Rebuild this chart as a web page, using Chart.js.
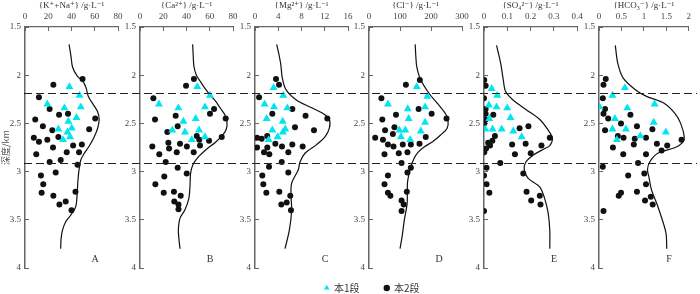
<!DOCTYPE html>
<html>
<head>
<meta charset="utf-8">
<script src="https://cdn.jsdelivr.net/npm/chart.js@4.4.1/dist/chart.umd.min.js"></script>
<style>
  body { margin: 0; width: 700px; height: 294px; overflow: hidden; background: #fff; position: relative; }
  canvas { position: absolute; top: 0; }
</style>
</head>
<body>
<script>
// depth of the two section boundaries (km)
const boundaryDepths = [2.18, 2.91];
const panelLetters = ["A", "B", "C", "D", "E", "F"];
const axisTitles = ["{K⁺+Na⁺} /g·L⁻¹", "{Ca²⁺} /g·L⁻¹", "{Mg²⁺} /g·L⁻¹", "{Cl⁻} /g·L⁻¹", "{SO₄²⁻} /g·L⁻¹", "{HCO₃⁻} /g·L⁻¹"];
const axisMax = [80, 80, 16, 300, 0.4, 2];
const axisStep = [20, 20, 4, 100, 0.1, 0.5];

// [value, depth] pairs; triangles = 本1段, dots = 本2段, curve = trend line
const aTri = [[38.2,2.12],[46.9,2.21],[19.2,2.30],[33.9,2.34],[48,2.33],[44.3,2.44],[37.3,2.48],[40.2,2.55],[36.5,2.59],[28.7,2.56],[38.8,2.64],[32.7,2.67]];
const aDot = [[49.5,2.04],[24.4,2.10],[12,2.23],[21.2,2.35],[29.3,2.41],[37,2.40],[8.8,2.46],[60.4,2.45],[15.4,2.53],[23.5,2.57],[55.2,2.56],[7.6,2.65],[28.7,2.64],[12,2.69],[19.2,2.67],[24.1,2.75],[41.4,2.73],[48.9,2.72],[35.9,2.80],[46.5,2.80],[9.7,2.82],[21.2,2.90],[30.7,2.88],[45.2,2.93],[13.7,3.04],[26.4,3.01],[15.7,3.13],[14.3,3.22],[24.4,3.25],[43.4,3.21],[29.6,3.34],[35,3.31],[40,3.40]];
const aCurve = [[37.9,1.68],[39.5,1.80],[41,1.92],[45,2.01],[49.5,2.06],[52.5,2.13],[54.5,2.22],[59,2.31],[62.5,2.38],[63.8,2.46],[62.5,2.55],[59.5,2.64],[55,2.74],[50.5,2.82],[48,2.88],[46.5,2.98],[45.5,3.1],[45,3.2],[43.7,3.36],[39.4,3.45],[35,3.52],[32.2,3.61],[31,3.7],[30.7,3.80]];

const bTri = [[49.3,2.12],[60.2,2.21],[16.3,2.30],[33,2.34],[55.9,2.33],[37.3,2.48],[47.9,2.45],[27.8,2.57],[38.7,2.59],[50.8,2.57],[44.5,2.67],[55.9,2.64]];
const bDot = [[46.4,2.04],[39.6,2.11],[11.5,2.24],[63.7,2.35],[60.2,2.40],[30.7,2.42],[12.9,2.46],[73.7,2.45],[32.4,2.53],[23.5,2.59],[70.3,2.64],[48.8,2.63],[51,2.67],[59.4,2.68],[24.4,2.70],[34.4,2.71],[40.3,2.74],[51.6,2.73],[10.6,2.74],[25,2.76],[31.6,2.80],[46.2,2.80],[16.6,2.82],[22.1,2.90],[32.4,2.96],[40.2,3.02],[20.9,3.05],[13.2,3.13],[20.4,3.22],[29.2,3.21],[35,3.25],[29.5,3.31],[33.1,3.34],[33.1,3.39]];
const bCurve = [[45.3,1.68],[45.8,1.8],[46.4,1.91],[48.5,2.0],[51.6,2.06],[56,2.14],[60,2.2],[65,2.27],[69,2.34],[73,2.41],[74.8,2.48],[74.2,2.56],[70.5,2.63],[64.5,2.70],[57,2.77],[50,2.85],[45.5,2.93],[43.5,3.02],[43,3.15],[42,3.28],[38.5,3.4],[34.5,3.48],[33,3.6],[33.5,3.7],[34.4,3.80]];

const cTri = [[3.2,2.13],[4.87,2.21],[1.65,2.30],[3.27,2.33],[5.56,2.34],[2.0,2.45],[4.76,2.48],[2.98,2.57],[5.2,2.56],[4.8,2.59],[2.35,2.67],[3.9,2.64]];
const cDot = [[3.61,2.04],[4.13,2.10],[0.7,2.23],[6.42,2.35],[2.98,2.40],[12.44,2.45],[8.7,2.42],[6.88,2.54],[10.15,2.57],[2.1,2.63],[0.35,2.65],[1.15,2.66],[3.5,2.71],[0.35,2.75],[2.12,2.75],[4.64,2.74],[6.42,2.72],[8.2,2.74],[1.55,2.80],[2.46,2.82],[5.73,2.80],[4.6,2.90],[2.41,2.95],[1.26,3.04],[5.73,3.01],[1.43,3.13],[1.95,3.22],[4.18,3.21],[6.07,3.25],[4.53,3.34],[5.45,3.32],[6.19,3.40]];
const cCurve = [[3.73,1.68],[4.1,1.78],[4.42,1.88],[4.7,2.03],[5.33,2.15],[7.17,2.26],[9.46,2.33],[11.76,2.40],[12.79,2.46],[12.79,2.55],[12.04,2.64],[10.6,2.72],[8.6,2.81],[7.74,2.90],[7.45,2.98],[6.31,3.12],[6.19,3.24],[6.31,3.40],[5.9,3.61],[5.16,3.80]];

const dTri = [[154,2.12],[188,2.22],[61,2.30],[125,2.35],[181,2.33],[128,2.45],[181,2.49],[98,2.57],[117,2.57],[167,2.58],[103,2.64],[133,2.67]];
const dDot = [[164,2.05],[119,2.10],[40,2.24],[160,2.35],[202,2.40],[87,2.41],[43,2.46],[250,2.45],[82,2.54],[52,2.57],[77,2.61],[20,2.65],[45,2.67],[163,2.71],[183,2.64],[61,2.72],[79,2.74],[109,2.72],[135,2.72],[50,2.82],[96,2.81],[124,2.80],[105,2.91],[135,2.96],[61,3.04],[124,3.01],[50,3.13],[61,3.22],[69,3.25],[122,3.21],[105,3.30],[112,3.34],[105,3.41]];
const dCurve = [[149,1.68],[151,1.8],[154,1.91],[167,2.05],[194,2.19],[220,2.29],[247,2.40],[255,2.47],[252,2.55],[231,2.62],[205,2.69],[180,2.74],[158,2.80],[146,2.86],[135,2.95],[128,3.04],[124,3.12],[123,3.33],[114,3.50],[107,3.67],[100,3.80]];

const eTri = [[0.033,2.14],[0.057,2.21],[0.021,2.31],[0.054,2.33],[0.10,2.34],[0.023,2.45],[0.114,2.44],[0.037,2.56],[0.076,2.56],[0.126,2.58],[0.162,2.64],[0.005,2.56]];
const eDot = [[0.001,2.05],[0.007,2.11],[0,2.24],[0.007,2.35],[0.007,2.40],[0.04,2.41],[0.007,2.46],[0.001,2.50],[0.153,2.55],[0.191,2.53],[0.047,2.63],[0.283,2.65],[0.018,2.70],[0.036,2.68],[0.026,2.73],[0.121,2.72],[0.179,2.71],[0.247,2.73],[0.009,2.76],[0.001,2.80],[0.133,2.82],[0.201,2.81],[0.07,2.91],[0.011,2.96],[0,3.04],[0.169,3.02],[0.011,3.13],[0.023,3.22],[0.183,3.21],[0.24,3.25],[0.203,3.30],[0.243,3.34],[0,3.41]];
const eCurve = [[0.054,1.69],[0.072,1.88],[0.083,2.05],[0.093,2.17],[0.126,2.26],[0.183,2.36],[0.24,2.46],[0.276,2.57],[0.294,2.65],[0.283,2.73],[0.254,2.77],[0.211,2.83],[0.18,2.90],[0.173,2.98],[0.19,3.07],[0.24,3.16],[0.261,3.28],[0.276,3.43],[0.283,3.61],[0.283,3.80]];

const fTri = [[0.577,2.13],[0.30,2.21],[1.24,2.30],[0.013,2.33],[0.63,2.34],[0.355,2.45],[1.22,2.49],[0.30,2.56],[0.60,2.56],[1.49,2.59],[0.92,2.63],[0.40,2.67]];
const fDot = [[0.15,2.04],[0.10,2.10],[0.085,2.24],[0.135,2.35],[0.10,2.40],[0.70,2.41],[0.205,2.45],[0.49,2.50],[0.846,2.53],[1.19,2.56],[0.135,2.57],[0.42,2.63],[0.547,2.65],[0.797,2.66],[1.047,2.65],[1.84,2.67],[0.776,2.72],[1.29,2.71],[1.52,2.73],[0.31,2.75],[1.395,2.78],[0.54,2.82],[1.047,2.82],[0.87,2.91],[0.085,2.95],[0.65,3.04],[1.01,3.02],[1.047,3.13],[0.44,3.25],[0.49,3.22],[0.846,3.21],[1.154,3.26],[1.026,3.30],[1.197,3.34],[0.10,3.41]];
const fCurve = [[0.363,1.69],[0.42,1.88],[0.54,2.03],[0.81,2.15],[1.06,2.22],[1.45,2.29],[1.70,2.40],[1.82,2.50],[1.90,2.64],[1.86,2.70],[1.70,2.75],[1.31,2.81],[1.13,2.90],[1.08,2.98],[1.11,3.05],[1.17,3.19],[1.31,3.36],[1.49,3.63],[1.51,3.80]];

const triSets = [aTri, bTri, cTri, dTri, eTri, fTri];
const dotSets = [aDot, bDot, cDot, dDot, eDot, fDot];
const curveSets = [aCurve, bCurve, cCurve, dCurve, eCurve, fCurve];

// page layout: x pixel of each panel's depth axis
const axisLeft = [25, 140, 255, 369, 484, 599];
const plotW = 93, topH = 27, bottomPad = 26, yAxisW = 25;
const serif = "'Liberation Serif', 'DejaVu Serif', serif";
const axisGrey = "#666";
const triColor = "#00e5ee";

const toXY = (arr) => arr.map(([x, y]) => ({ x: x, y: y }));
// plain tick text: 2 not 2.0, 0.5 stays 0.5
const tickText = (v) => String(Number(Number(v).toFixed(3)));

// dashed boundary lines + panel letter
const decor = {
  id: "decor",
  afterDatasetsDraw(chart, args, opts) {
    const ctx = chart.ctx;
    const ys = chart.scales.y;
    ctx.save();
    ctx.strokeStyle = "#222";
    ctx.lineWidth = 1.2;
    ctx.setLineDash([8, 4]);
    ctx.lineDashOffset = (opts.globalLeft + opts.x0) % 12;
    boundaryDepths.forEach((d) => {
      const py = Math.round(ys.getPixelForValue(d)) + 0.5;
      ctx.beginPath();
      ctx.moveTo(opts.x0, py);
      ctx.lineTo(opts.x1, py);
      ctx.stroke();
    });
    ctx.setLineDash([]);
    ctx.fillStyle = "#333";
    ctx.font = "10px " + serif;
    ctx.textAlign = "center";
    ctx.textBaseline = "middle";
    ctx.fillText(opts.letter, chart.chartArea.left + 70, chart.chartArea.bottom - 9);
    ctx.restore();
  },
};

function makePanel(i) {
  const cv = document.createElement("canvas");
  const left = axisLeft[i] - yAxisW;
  const w = i < 5 ? 135 : 700 - left;
  cv.width = w;
  cv.height = 294;
  cv.style.left = left + "px";
  document.body.appendChild(cv);

  new Chart(cv, {
    type: "scatter",
    data: {
      datasets: [
        { label: "本1段", data: toXY(triSets[i]), pointStyle: "triangle", pointRadius: 4.6, backgroundColor: triColor, borderWidth: 0 },
        { label: "本2段", data: toXY(dotSets[i]), pointStyle: "circle", pointRadius: 3, backgroundColor: "#111", borderWidth: 0 },
        { label: "trend", data: toXY(curveSets[i]), showLine: true, pointRadius: 0, borderColor: "#111", borderWidth: 1.2, tension: 0.3, fill: false },
      ],
    },
    options: {
      responsive: false,
      animation: false,
      events: [],
      layout: { padding: { left: 0, top: 0, right: w - yAxisW - plotW, bottom: bottomPad } },
      plugins: {
        legend: { display: false },
        tooltip: { enabled: false },
        decor: { letter: panelLetters[i], x0: i === 0 ? 20 : 0, x1: i < 5 ? 115 : 123, globalLeft: left },
      },
      scales: {
        x: {
          type: "linear",
          position: "top",
          min: 0,
          max: axisMax[i],
          ticks: { stepSize: axisStep[i], padding: 9, color: "#444", font: { family: serif, size: 9 }, callback: tickText },
          grid: { drawOnChartArea: false, tickLength: -4, color: axisGrey },
          border: { color: axisGrey, width: 1.2 },
          title: { display: true, text: axisTitles[i], color: "#333", font: { family: serif, size: 9 }, padding: { top: 0, bottom: 0 } },
          afterFit(s) { s.height = topH; },
        },
        y: {
          type: "linear",
          min: 1.5,
          max: 4,
          reverse: true,
          ticks: { stepSize: 0.5, padding: 8, color: "#444", font: { family: serif, size: 9 }, callback: tickText },
          grid: { drawOnChartArea: false, tickLength: -4, color: axisGrey },
          border: { color: axisGrey, width: 1.5 },
          title: {
            display: i === 0,
            text: "深度/km",
            color: "#555",
            font: { family: "'Noto Sans CJK SC', " + serif, size: 9 },
            padding: 0,
          },
          afterFit(s) { s.width = yAxisW; },
        },
      },
    },
    plugins: [decor],
  });
}

for (let i = 0; i < 6; i++) makePanel(i);

// legend strip at the bottom (its own small chart, legend only)
const lg = document.createElement("canvas");
lg.width = 200;
lg.height = 160;
lg.style.left = "272px";
lg.style.top = "258px";
document.body.appendChild(lg);
new Chart(lg, {
  type: "scatter",
  data: {
    datasets: [
      { label: "本1段", data: [], pointStyle: "triangle", backgroundColor: triColor, borderWidth: 0 },
      { label: "本2段", data: [], pointStyle: "circle", backgroundColor: "#111", borderWidth: 0 },
    ],
  },
  options: {
    responsive: false,
    animation: false,
    events: [],
    layout: { padding: 0 },
    scales: { x: { display: false }, y: { display: false } },
    plugins: {
      tooltip: { enabled: false },
      legend: {
        position: "top",
        labels: {
          usePointStyle: true,
          boxWidth: 4.5,
          boxHeight: 4.5,
          padding: 25,
          color: "#333",
          font: { family: "'Noto Sans CJK SC', " + serif, size: 10 },
        },
      },
    },
  },
});
</script>
</body>
</html>
